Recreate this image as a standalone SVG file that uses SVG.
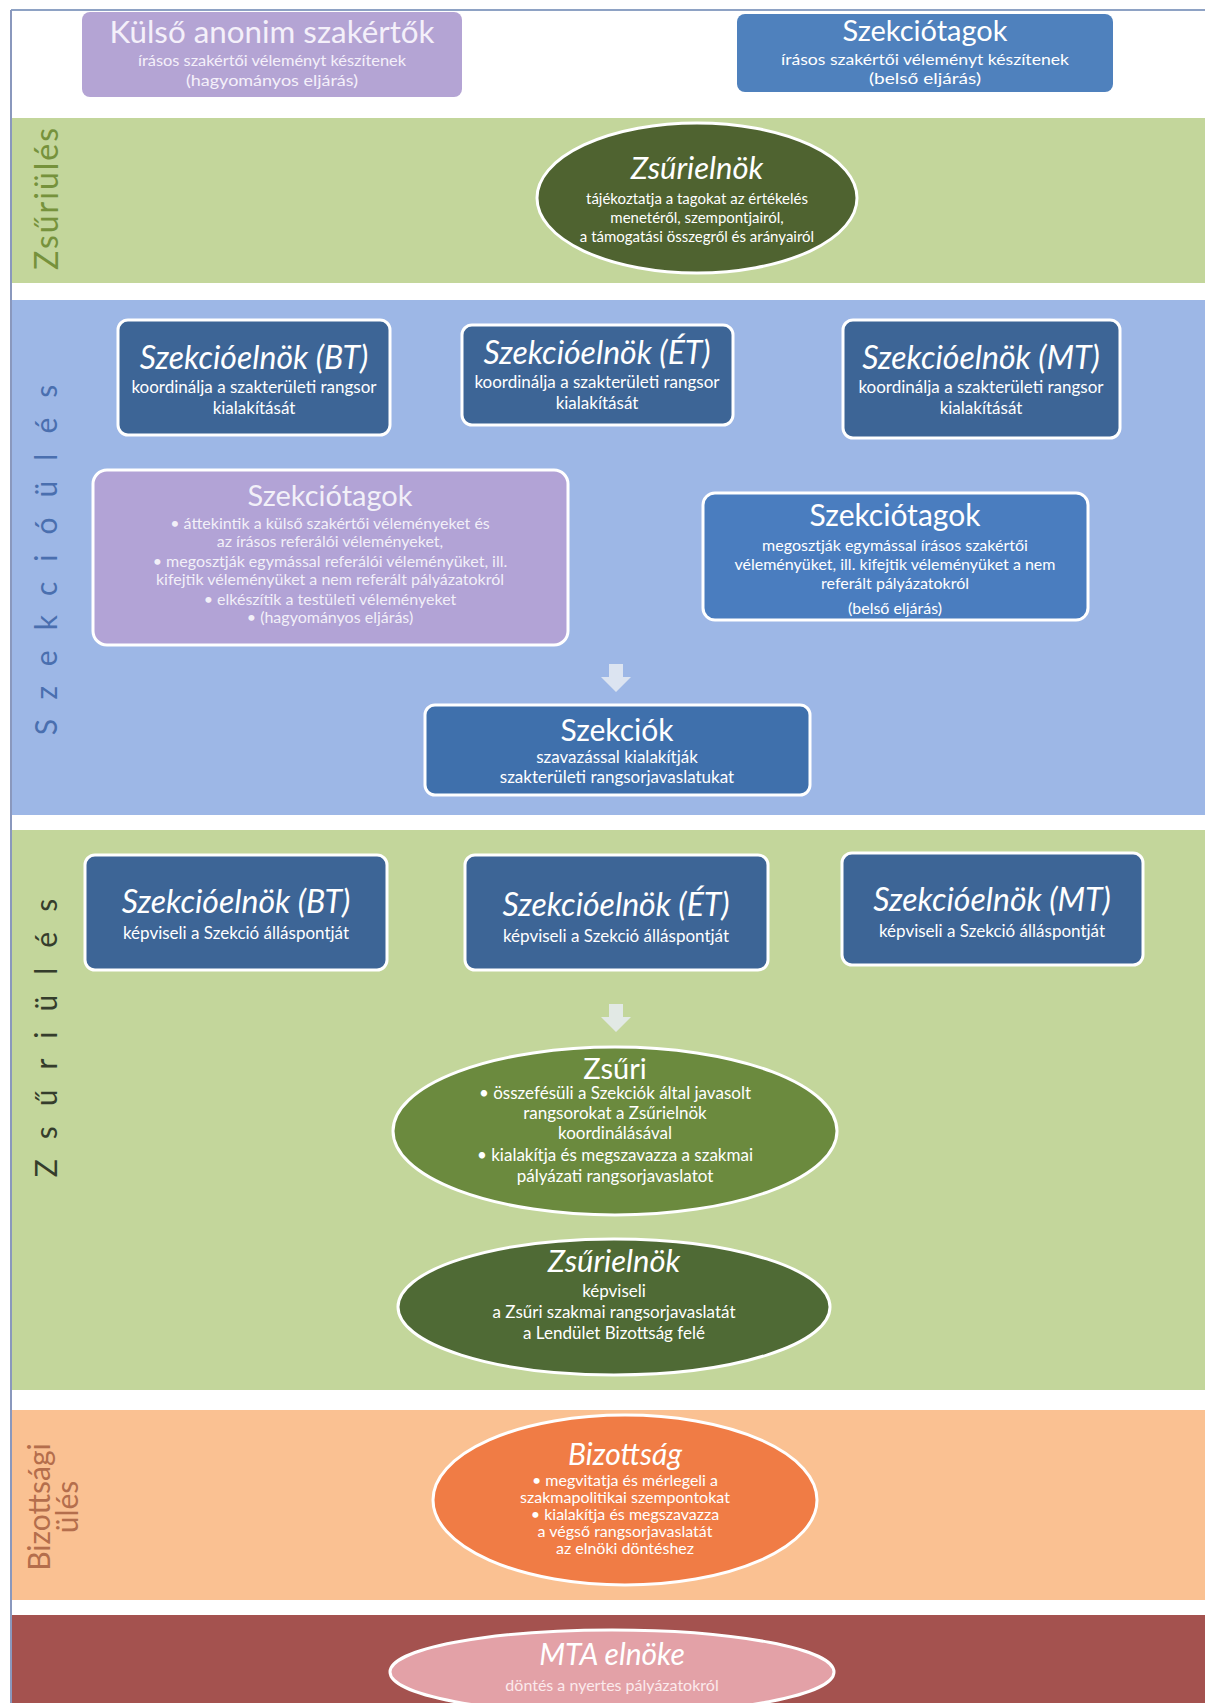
<svg xmlns="http://www.w3.org/2000/svg" width="1205" height="1703" viewBox="0 0 1205 1703">
<defs>
<style>
text{font-family:"Lato","Open Sans","Liberation Sans",sans-serif;fill:#ffffff;text-anchor:middle}
.t{font-size:29px}
.ti{font-size:32px;font-style:italic}
.te{font-size:31px;font-style:italic}
.s{font-size:17px}
.sb{font-size:16px}
.box{stroke:#ffffff;stroke-width:3}
.dk{fill:#3d6596}
.side{font-size:30px}
</style>
<symbol id="arr" viewBox="0 0 30 28"><path d="M8 0 H22 V13 H30 L15 28 L0 13 H8 Z" fill="#e8ecf2" fill-opacity="0.85"/></symbol>
</defs>
<rect width="1205" height="1703" fill="#ffffff"/>
<!-- frame -->
<line x1="11" y1="10" x2="1205" y2="10" stroke="#8ea2c4" stroke-width="2"/>
<line x1="11" y1="10" x2="11" y2="1703" stroke="#8a98bd" stroke-width="2"/>
<!-- bands -->
<rect x="12" y="118" width="1193" height="165" fill="#c3d69b"/>
<rect x="12" y="300" width="1193" height="515" fill="#9db7e6"/>
<rect x="12" y="830" width="1193" height="560" fill="#c3d69b"/>
<rect x="12" y="1410" width="1193" height="190" fill="#fac192"/>
<rect x="12" y="1615" width="1193" height="88" fill="#a4524f"/>
<!-- side labels -->
<text class="side" transform="translate(58,198) rotate(-90)" style="fill:#76923c;font-size:32px" letter-spacing="2">Zsűriülés</text>
<text class="side" transform="translate(57,550) rotate(-90)" style="fill:#4a6faf" letter-spacing="20">Szekcióülés</text>
<text class="side" transform="translate(57,1028) rotate(-90)" style="fill:#353d2c" letter-spacing="20">Zsűriülés</text>
<text class="side" transform="translate(50,1507) rotate(-90)" style="fill:#b46e4c">Bizottsági</text>
<text class="side" transform="translate(78,1507) rotate(-90)" style="fill:#b46e4c">ülés</text>
<!-- nodes -->
<g id="kulso">
<rect x="82" y="12" width="380" height="85" rx="8" fill="#b4a4d4"/>
<text class="t" x="272" y="43" textLength="325" lengthAdjust="spacingAndGlyphs" style="fill:#f4f0fa;font-size:31px">Külső anonim szakértők</text>
<text class="sb" x="272" y="66" textLength="268" lengthAdjust="spacingAndGlyphs" style="fill:#f4f0fa">írásos szakértői véleményt készítenek</text>
<text class="sb" x="272" y="86" textLength="172" lengthAdjust="spacingAndGlyphs" style="fill:#f4f0fa">(hagyományos eljárás)</text>
</g>
<g id="szekciotagok-top">
<rect x="737" y="14" width="376" height="78" rx="8" fill="#4f81bd"/>
<text class="t" x="925" y="41">Szekciótagok</text>
<text class="sb" x="925" y="65" textLength="288" lengthAdjust="spacingAndGlyphs">írásos szakértői véleményt készítenek</text>
<text class="sb" x="925" y="84" textLength="112" lengthAdjust="spacingAndGlyphs">(belső eljárás)</text>
</g>
<g id="zsurielnok-1">
<ellipse cx="697" cy="198" rx="160" ry="75" fill="#4f6330" class="box"/>
<text class="te" x="697" y="179">Zsűrielnök</text>
<text class="sb" x="697" y="204" style="font-size:15px">tájékoztatja a tagokat az értékelés</text>
<text class="sb" x="697" y="223" style="font-size:15px">menetéről, szempontjairól,</text>
<text class="sb" x="697" y="242" style="font-size:15px">a támogatási összegről és arányairól</text>
</g>
<g id="elnok-bt-1">
<rect x="118" y="320" width="272" height="115" rx="10" class="box dk"/>
<text class="ti" x="254" y="369">Szekcióelnök (BT)</text>
<text class="s" x="254" y="393">koordinálja a szakterületi rangsor</text>
<text class="s" x="254" y="414">kialakítását</text>
</g>
<g id="elnok-et-1">
<rect x="462" y="325" width="271" height="100" rx="10" class="box dk"/>
<text class="ti" x="597" y="364">Szekcióelnök (ÉT)</text>
<text class="s" x="597" y="388">koordinálja a szakterületi rangsor</text>
<text class="s" x="597" y="409">kialakítását</text>
</g>
<g id="elnok-mt-1">
<rect x="843" y="320" width="277" height="118" rx="10" class="box dk"/>
<text class="ti" x="981" y="369">Szekcióelnök (MT)</text>
<text class="s" x="981" y="393">koordinálja a szakterületi rangsor</text>
<text class="s" x="981" y="414">kialakítását</text>
</g>
<g id="szekciotagok-hagy">
<rect x="93" y="470" width="475" height="175" rx="14" fill="#b2a3d6" class="box"/>
<g style="fill-opacity:0.85">
<text class="t" x="330" y="506">Szekciótagok</text>
<text class="sb" x="330" y="529">•   áttekintik a külső szakértői véleményeket és</text>
<text class="sb" x="330" y="547">az írásos referálói véleményeket,</text>
<text class="sb" x="330" y="567">•   megosztják egymással referálói véleményüket, ill.</text>
<text class="sb" x="330" y="585">kifejtik véleményüket  a nem referált pályázatokról</text>
<text class="sb" x="330" y="605">•   elkészítik a testületi véleményeket</text>
<text class="sb" x="330" y="623">•   (hagyományos eljárás)</text>
</g>
</g>
<g id="szekciotagok-belso">
<rect x="703" y="493" width="385" height="127" rx="12" fill="#4a7dbf" class="box"/>
<text class="t" x="895" y="526" style="font-size:30px">Szekciótagok</text>
<text class="sb" x="895" y="551">megosztják egymással írásos szakértői</text>
<text class="sb" x="895" y="570">véleményüket, ill. kifejtik véleményüket a nem</text>
<text class="sb" x="895" y="589">referált pályázatokról</text>
<text class="sb" x="895" y="614">(belső eljárás)</text>
</g>
<g id="szekciok">
<rect x="425" y="705" width="385" height="90" rx="10" fill="#3f70ac" class="box"/>
<text class="t" x="617" y="741" style="font-size:30px">Szekciók</text>
<text class="s" x="617" y="763">szavazással kialakítják</text>
<text class="s" x="617" y="783">szakterületi rangsorjavaslatukat</text>
</g>
<g id="elnok-bt-2">
<rect x="85" y="855" width="302" height="115" rx="10" class="box dk"/>
<text class="ti" x="236" y="913">Szekcióelnök (BT)</text>
<text class="s" x="236" y="939">képviseli a Szekció álláspontját</text>
</g>
<g id="elnok-et-2">
<rect x="465" y="855" width="303" height="115" rx="10" class="box dk"/>
<text class="ti" x="616" y="916">Szekcióelnök (ÉT)</text>
<text class="s" x="616" y="942">képviseli a Szekció álláspontját</text>
</g>
<g id="elnok-mt-2">
<rect x="842" y="853" width="301" height="112" rx="10" class="box dk"/>
<text class="ti" x="992" y="911">Szekcióelnök (MT)</text>
<text class="s" x="992" y="937">képviseli a Szekció álláspontját</text>
</g>
<g id="zsuri">
<ellipse cx="615" cy="1131" rx="222" ry="84" fill="#6b8a3e" class="box"/>
<text class="t" x="615" y="1079">Zsűri</text>
<text class="s" x="615" y="1099">• összefésüli a Szekciók által javasolt</text>
<text class="s" x="615" y="1119">rangsorokat a Zsűrielnök</text>
<text class="s" x="615" y="1139">koordinálásával</text>
<text class="s" x="615" y="1161">• kialakítja és megszavazza a szakmai</text>
<text class="s" x="615" y="1182">pályázati rangsorjavaslatot</text>
</g>
<g id="zsurielnok-2">
<ellipse cx="614" cy="1307" rx="216" ry="68" fill="#4f6a35" class="box"/>
<text class="te" x="614" y="1272">Zsűrielnök</text>
<text class="s" x="614" y="1297">képviseli</text>
<text class="s" x="614" y="1318">a Zsűri szakmai rangsorjavaslatát</text>
<text class="s" x="614" y="1339">a Lendület Bizottság felé</text>
</g>
<g id="bizottsag">
<ellipse cx="625" cy="1500" rx="192" ry="85" fill="#f07c45" class="box"/>
<text class="te" x="625" y="1465" style="font-size:30px">Bizottság</text>
<g style="fill:#fde8dc">
<text class="sb" x="625" y="1486">• megvitatja és mérlegeli a</text>
<text class="sb" x="625" y="1503">szakmapolitikai szempontokat</text>
<text class="sb" x="625" y="1520">• kialakítja és megszavazza</text>
<text class="sb" x="625" y="1537">a végső rangsorjavaslatát</text>
<text class="sb" x="625" y="1554">az elnöki döntéshez</text>
</g>
</g>
<g id="mta-elnoke">
<ellipse cx="612" cy="1672" rx="222" ry="42" fill="#e3a1a7" class="box"/>
<text class="te" x="612" y="1665" style="font-size:30px">MTA elnöke</text>
<text class="sb" x="612" y="1691" style="fill:#fbeaec">döntés a nyertes pályázatokról</text>
</g>
<!-- connectors -->
<g id="connectors">
<use href="#arr" x="601" y="664" width="30" height="28"/>
<use href="#arr" x="601" y="1004" width="30" height="28"/>
</g>
</svg>
